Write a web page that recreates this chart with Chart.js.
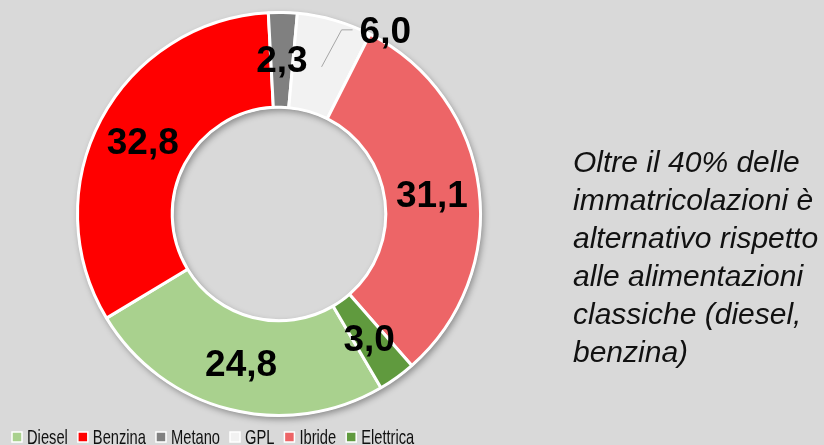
<!DOCTYPE html>
<html>
<head>
<meta charset="utf-8">
<script src="https://cdn.jsdelivr.net/npm/chart.js@4/dist/chart.umd.min.js"></script>
<style>
  html, body { margin: 0; padding: 0; background: #d9d9d9; }
  #wrap { position: relative; width: 824px; height: 445px; }
  #note {
    position: absolute; left: 573px; top: 143px; width: 251px;
    font-family: "Liberation Sans", Arial, sans-serif; font-style: italic;
    font-size: 30px; line-height: 38px; color: #111111; white-space: nowrap;
  }
</style>
</head>
<body>
<div id="wrap">
  <canvas id="mychart" width="824" height="445"></canvas>
  <div id="note">Oltre il 40% delle<br>immatricolazioni è<br>alternativo rispetto<br>alle alimentazioni<br>classiche (diesel,<br>benzina)</div>
</div>
<script>
const categories = ['Diesel', 'Benzina', 'Metano', 'GPL', 'Ibride', 'Elettrica'];
const shares = [24.8, 32.8, 2.3, 6.0, 31.1, 3.0];
const sliceColors = ['#a9d18e', '#ff0000', '#808080', '#f2f2f2', '#ed6567', '#609a3e'];

// white ring with a soft shadow behind the slices
const ringShadow = {
  id: 'ringShadow',
  beforeDatasetsDraw(chart) {
    const arc = chart.getDatasetMeta(0).data[0];
    if (!arc) return;
    const ctx = chart.ctx;
    ctx.save();
    ctx.beginPath();
    ctx.arc(arc.x, arc.y, arc.outerRadius + 1, 0, Math.PI * 2);
    ctx.arc(arc.x, arc.y, arc.innerRadius - 1, 0, Math.PI * 2, true);
    ctx.fillStyle = '#ffffff';
    ctx.shadowColor = 'rgba(0,0,0,0.35)';
    ctx.shadowBlur = 6;
    ctx.shadowOffsetX = 2;
    ctx.shadowOffsetY = 3;
    ctx.fill('evenodd');
    ctx.restore();
  }
};

// value labels (comma decimals), GPL pulled outside with a leader line
const valueLabels = {
  id: 'valueLabels',
  afterDatasetsDraw(chart) {
    const ctx = chart.ctx;
    const meta = chart.getDatasetMeta(0);
    ctx.save();
    ctx.font = 'bold 37px "Liberation Sans", Arial, sans-serif';
    ctx.fillStyle = '#000000';
    ctx.textBaseline = 'middle';
    meta.data.forEach((arc, i) => {
      const p = arc.tooltipPosition();
      const txt = shares[i].toFixed(1).replace('.', ',');
      if (categories[i] === 'GPL') {
        ctx.strokeStyle = '#a6a6a6';
        ctx.lineWidth = 1;
        ctx.beginPath();
        ctx.moveTo(p.x, p.y + 1);
        ctx.lineTo(p.x + 20, p.y - 36);
        ctx.lineTo(p.x + 31, p.y - 36);
        ctx.stroke();
        ctx.textAlign = 'left';
        ctx.fillText(txt, p.x + 38, p.y - 33);
      } else {
        ctx.textAlign = 'center';
        ctx.fillText(txt, p.x, p.y + 2);
      }
    });
    ctx.restore();
  }
};

// compact legend along the bottom (narrow Calibri-like text)
const bottomLegend = {
  id: 'bottomLegend',
  afterDraw(chart) {
    const ctx = chart.ctx;
    const squeeze = 0.7;
    let x = 12;
    const y = 437;
    ctx.save();
    ctx.font = '21px "Liberation Sans", Arial, sans-serif';
    ctx.textBaseline = 'middle';
    ctx.textAlign = 'left';
    categories.forEach((name, i) => {
      ctx.fillStyle = sliceColors[i];
      ctx.fillRect(x, y - 5, 10, 10);
      ctx.strokeStyle = '#ffffff';
      ctx.lineWidth = 1.5;
      ctx.strokeRect(x, y - 5, 10, 10);
      const tx = x + 15;
      ctx.fillStyle = '#111111';
      ctx.save();
      ctx.translate(tx, y + 1);
      ctx.scale(squeeze, 1);
      ctx.fillText(name, 0, 0);
      ctx.restore();
      x = tx + ctx.measureText(name).width * squeeze + 10;
    });
    ctx.restore();
  }
};

new Chart(document.getElementById('mychart'), {
  type: 'doughnut',
  data: {
    labels: categories,
    datasets: [{
      data: shares,
      backgroundColor: sliceColors,
      borderColor: '#ffffff',
      borderWidth: 3
    }]
  },
  options: {
    responsive: false,
    animation: false,
    rotation: 149.6,
    cutout: '53%',
    layout: { padding: { left: 2, top: 11, right: 268, bottom: 28 } },
    plugins: {
      tooltip: { enabled: false },
      legend: { display: false }
    }
  },
  plugins: [ringShadow, valueLabels, bottomLegend]
});
</script>
</body>
</html>
